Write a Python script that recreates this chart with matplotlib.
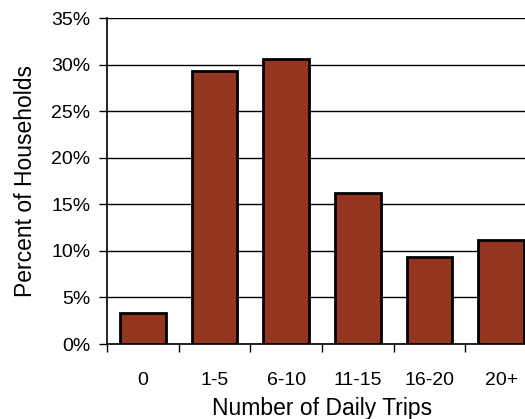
import matplotlib
matplotlib.use("Agg")
import matplotlib.pyplot as plt
from matplotlib.ticker import FuncFormatter, MultipleLocator

categories = ["0", "1-5", "6-10", "11-15", "16-20", "20+"]
percent_households = [3.3, 29.3, 30.6, 16.2, 9.3, 11.2]

plt.rcParams["font.family"] = ["Liberation Sans", "DejaVu Sans"]

fig = plt.figure(figsize=(5.25, 4.19), dpi=100)
ax = fig.add_axes([107 / 525, 75 / 419, 430 / 525, 326 / 419])

x = list(range(len(categories)))
ax.bar(x, percent_households, width=0.64, color="#943520",
       edgecolor="black", linewidth=2.0, zorder=3)

ax.set_xlim(-0.5, len(categories) - 0.5)
ax.set_ylim(0, 35)
ax.yaxis.set_major_locator(MultipleLocator(5))
ax.yaxis.set_major_formatter(FuncFormatter(lambda v, _: f"{v:.0f}%"))
ax.grid(axis="y", color="black", linewidth=1.0, zorder=0)

# category labels sit between boundary ticks
ax.set_xticks([i + 0.5 for i in range(-1, len(categories))])
ax.set_xticklabels([])
ax.set_xticks(x, minor=True)
ax.set_xticklabels(categories, minor=True)
ax.tick_params(axis="x", which="major", direction="out", length=6, width=1)
ax.tick_params(axis="x", which="minor", length=0, pad=20, labelsize=14)
ax.tick_params(axis="y", direction="out", length=6, width=1, pad=6, labelsize=14)

for side in ("top", "right"):
    ax.spines[side].set_visible(False)
for side in ("left", "bottom"):
    ax.spines[side].set_linewidth(1.2)

ax.set_xlabel("Number of Daily Trips", fontsize=16.5, labelpad=6)
ax.set_ylabel("Percent of Households", fontsize=16.5, labelpad=10)

fig.savefig("out.png", dpi=100)
